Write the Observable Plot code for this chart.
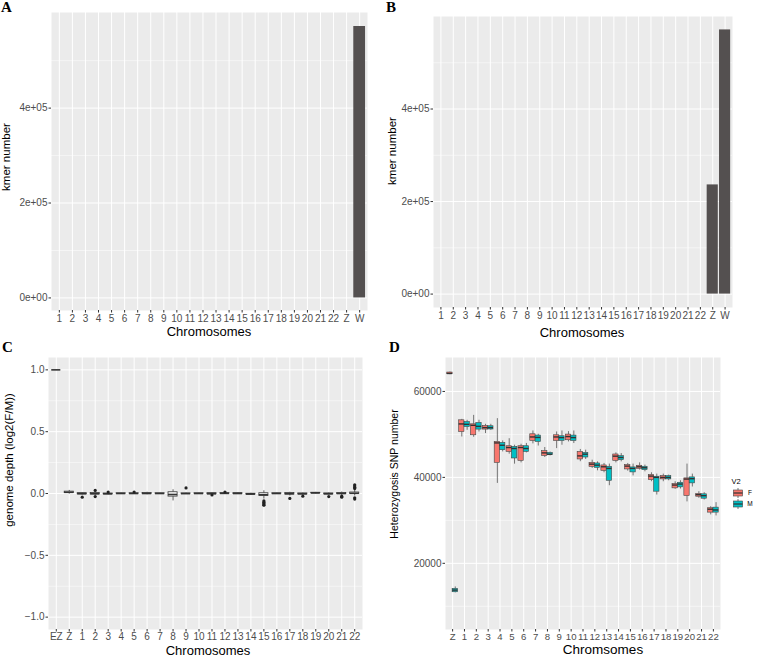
<!DOCTYPE html>
<html><head><meta charset="utf-8">
<script src="https://cdn.jsdelivr.net/npm/d3@7"></script>
<script src="https://cdn.jsdelivr.net/npm/@observablehq/plot@0.6"></script>
<style>
body{margin:0;background:#fff;}
#wrap{position:relative;width:760px;height:656px;overflow:hidden;font-family:"Liberation Sans",Arial,sans-serif;}
.t{position:absolute;white-space:nowrap;line-height:1;color:#000;}
.tag{position:absolute;font-family:"Liberation Serif","Times New Roman",serif;font-weight:bold;font-size:15px;line-height:1;}
</style></head><body><div id="wrap"></div>
<script>
// ---------- Panel A / B : kmer number per chromosome ----------
const chrAB = ["1","2","3","4","5","6","7","8","9","10","11","12","13","14","15","16","17","18","19","20","21","22","Z","W"];
const kmerA = [0,0,0,0,0,0,0,0,0,0,0,0,0,0,0,0,0,0,0,0,0,0,0,572000];
const kmerB = [0,0,0,0,0,0,0,0,0,0,0,0,0,0,0,0,0,0,0,0,0,0,236000,571000];
const kmerTicks = [0, 200000, 400000];
const kmerTickLabels = ["0e+00", "2e+05", "4e+05"];
const kmerMinor = [100000, 300000, 500000];

// ---------- Panel C : genome depth log2(F/M) ----------
const chrC = ["EZ","Z","1","2","3","4","5","6","7","8","9","10","11","12","13","14","15","16","17","18","19","20","21","22"];
const cLow  = [1, -0.005, -0.012, -0.015, -0.010, -0.004, -0.004, -0.010, -0.003, -0.060, -0.004, -0.004, -0.010, -0.003, -0.006, -0.012, -0.045, -0.004, -0.020, -0.012, -0.002, -0.012, -0.015, -0.020];
const cQ1   = [1,  0.003, -0.006, -0.007, -0.006, -0.002, -0.002, -0.004, -0.002, -0.025, -0.002, -0.002, -0.006, -0.001, -0.003, -0.008, -0.020, -0.002, -0.008, -0.007,  0.002, -0.006, -0.005, -0.004];
const cMed  = [1,  0.010, -0.002, -0.002, -0.003,  0.000,  0.000,  0.000,  0.000, -0.008, -0.001,  0.000, -0.002,  0.001,  0.000, -0.005, -0.010,  0.000, -0.002, -0.003,  0.004, -0.003,  0.000,  0.002];
const cQ3   = [1,  0.015,  0.003,  0.004,  0.000,  0.002,  0.002,  0.004,  0.002,  0.010,  0.001,  0.002,  0.003,  0.003,  0.003, -0.002,  0.002,  0.002,  0.004,  0.001,  0.006,  0.001,  0.004,  0.008];
const cHigh = [1,  0.025,  0.008,  0.012,  0.005,  0.004,  0.005,  0.010,  0.003,  0.030,  0.004,  0.004,  0.007,  0.006,  0.006,  0.002,  0.022,  0.004,  0.010,  0.005,  0.009,  0.005,  0.012,  0.025];
const cOutChr = ["1","2","2","3","5","9","11","12","15","15","15","15","15","17","18","20","21","21","22","22","22","22","22","22"];
const cOutVal = [-0.03, 0.025, -0.025, 0.012, 0.012, 0.045, -0.012, 0.012, -0.06, -0.07, -0.08, -0.09, -0.095, -0.04, -0.022, -0.025, -0.022, -0.03, 0.04, 0.05, 0.06, 0.07, -0.035, -0.045];
const cTicks = [-1, -0.5, 0, 0.5, 1];
const cTickLabels = ["\u22121.0", "\u22120.5", "0.0", "0.5", "1.0"];
const cMinor = [-0.75, -0.25, 0.25, 0.75];

// ---------- Panel D : heterozygosis SNP number ----------
const chrD = ["Z","1","2","3","4","5","6","7","8","9","10","11","12","13","14","15","16","17","18","19","20","21","22"];
const sexes = ["F", "M"];
const fLow  = [63900, 49400, 49340, 50200, 38600, 45400, 43380, 47800, 44630, 46700, 48250, 43650, 42080, 41070, 43380, 41460, 41690, 38990, 38990, 37220, 34300, 35130, 31270];
const fQ1   = [64000, 50570, 49800, 51120, 43380, 45930, 43850, 48480, 45000, 48480, 48640, 44170, 42450, 41530, 43850, 41850, 42000, 39380, 39530, 37450, 35670, 35500, 31800];
const fMed  = [64200, 52440, 52120, 51580, 48020, 46950, 46950, 49410, 45700, 49410, 49500, 45000, 43080, 42470, 44940, 42620, 42470, 40300, 40000, 38220, 39610, 35970, 32590];
const fQ3   = [64400, 53280, 52350, 51960, 48250, 47250, 47250, 50030, 46100, 49800, 49960, 45930, 43380, 42780, 45330, 42850, 42700, 40530, 40300, 38450, 39770, 36130, 32820];
const fHigh = [64500, 53500, 54430, 52350, 53670, 49000, 47710, 50800, 46950, 50570, 50650, 46500, 44000, 43240, 45700, 43240, 43380, 41070, 40760, 38990, 43090, 36670, 33190];
const mLow  = [13120, 50960, 50570, 50960, 45930, 43080, 45700, 47300, 45000, 47480, 47880, 44170, 41530, 38060, 43620, 40350, 41300, 35900, 39220, 37290, 37760, 34740, 31030];
const mQ1   = [13270, 51720, 51120, 51150, 46330, 44400, 45930, 48250, 45170, 48480, 48480, 44630, 42220, 39210, 44000, 41160, 41700, 36670, 39530, 37680, 38610, 35040, 31800];
const mMed  = [13770, 52350, 51880, 51580, 47480, 46720, 46720, 49300, 45400, 49260, 49260, 45400, 42850, 42080, 44630, 42080, 42240, 40000, 40000, 38450, 39690, 35740, 32420];
const mQ3   = [14050, 52880, 52650, 51900, 48020, 47100, 47250, 49730, 45700, 49570, 49730, 45700, 43240, 42470, 44940, 42320, 42470, 40150, 40300, 38750, 40000, 36060, 32960];
const mHigh = [14500, 53280, 53300, 52350, 48500, 47480, 47900, 50030, 45900, 50800, 50800, 46330, 43610, 43090, 45550, 43090, 42850, 40760, 40530, 39220, 40760, 36440, 34120];
const dTicks = [20000, 40000, 60000];
const dMinor = [10000, 30000, 50000];
const sexColors = ["#F8766D", "#00BFC4"];

// ---------- layout helpers ----------
const FONT = '"Liberation Sans", Arial, sans-serif';
const wrap = document.getElementById("wrap");

function addText(str, x, y, size, opts = {}) {
  const el = document.createElement("div");
  el.className = opts.tag ? "tag" : "t";
  el.textContent = str;
  el.style.left = x + "px";
  el.style.top = y + "px";
  el.style.fontSize = size + "px";
  if (opts.color) el.style.color = opts.color;
  if (!opts.tag) el.style.transform = "translate(-50%,-50%)" + (opts.rotate ? " rotate(-90deg)" : "");
  wrap.appendChild(el);
}

function panel({cats, yDomain, yMajor, yMinor, yFormat, margins, left, top, width, height, marks, color, xFont = 10, xPad = 1.5}) {
  const n = cats.length;
  const chart = Plot.plot({
    width, height, ...margins,
    style: {fontFamily: FONT, background: "transparent", color: "#333", overflow: "visible"},
    x: {type: "linear", domain: [-0.6, n - 0.4]},
    y: {domain: yDomain},
    color: color || undefined,
    marks: [
      Plot.frame({fill: "#EBEBEB", stroke: "none"}),
      Plot.ruleY(yMinor, {stroke: "#fff", strokeWidth: 0.5}),
      Plot.ruleY(yMajor, {stroke: "#fff", strokeWidth: 1}),
      Plot.ruleX(d3.range(n), {stroke: "#fff", strokeWidth: 1}),
      ...marks,
      Plot.axisX(d3.range(n), {tickFormat: i => cats[i], tickSize: 2.5, tickPadding: xPad, fontSize: xFont, fill: "#4D4D4D", stroke: "#333", label: null}),
      Plot.axisY(yMajor, {tickFormat: yFormat, tickSize: 2.5, tickPadding: 1.5, fontSize: 10, fill: "#4D4D4D", stroke: "#333", label: null})
    ]
  });
  chart.style.position = "absolute";
  chart.style.left = left + "px";
  chart.style.top = top + "px";
  wrap.appendChild(chart);
}

// ---------- Panel A ----------
const barsA = chrAB.map((c, i) => ({i, v: kmerA[i]})).filter(d => d.v > 0);
panel({
  cats: chrAB, yDomain: [-26500, 601500], yMajor: kmerTicks, yMinor: kmerMinor,
  yFormat: d => kmerTickLabels[kmerTicks.indexOf(d)],
  margins: {marginTop: 12, marginRight: 13, marginBottom: 30, marginLeft: 51},
  left: 0, top: 0, width: 380, height: 340,
  marks: [Plot.rectY(barsA, {x1: d => d.i - 0.45, x2: d => d.i + 0.45, y: "v", fill: "#545050"})]
});

// ---------- Panel B ----------
const barsB = chrAB.map((c, i) => ({i, v: kmerB[i]})).filter(d => d.v > 0);
panel({
  cats: chrAB, yDomain: [-29000, 600000], yMajor: kmerTicks, yMinor: kmerMinor,
  yFormat: d => kmerTickLabels[kmerTicks.indexOf(d)],
  margins: {marginTop: 16, marginRight: 28, marginBottom: 33, marginLeft: 53},
  left: 380, top: 0, width: 380, height: 340,
  marks: [Plot.rectY(barsB, {x1: d => d.i - 0.45, x2: d => d.i + 0.45, y: "v", fill: "#545050"})]
});

// ---------- Panel C ----------
const cRows = chrC.map((c, i) => ({i, lo: cLow[i], q1: cQ1[i], med: cMed[i], q3: cQ3[i], hi: cHigh[i]}));
const cOut = cOutChr.map((c, k) => ({i: chrC.indexOf(c), v: cOutVal[k]}));
const cw = 0.35;
panel({
  cats: chrC, yDomain: [-1.1, 1.1], yMajor: cTicks, yMinor: cMinor,
  yFormat: d => cTickLabels[cTicks.indexOf(d)], xPad: 1,
  margins: {marginTop: 17, marginRight: 18, marginBottom: 27, marginLeft: 48},
  left: 0, top: 340, width: 380, height: 316,
  marks: [
    Plot.ruleX(cRows, {x: "i", y1: "lo", y2: "q1", stroke: "#333", strokeWidth: 0.8}),
    Plot.ruleX(cRows, {x: "i", y1: "q3", y2: "hi", stroke: "#333", strokeWidth: 0.8}),
    Plot.rect(cRows, {x1: d => d.i - cw, x2: d => d.i + cw, y1: "q1", y2: "q3", fill: "#fff", stroke: "#333", strokeWidth: 0.8}),
    Plot.ruleY(cRows, {y: "med", x1: d => d.i - cw, x2: d => d.i + cw, stroke: "#333", strokeWidth: 1.6}),
    Plot.dot(cOut, {x: "i", y: "v", r: 1.6, fill: "#222", stroke: "none"})
  ]
});

// ---------- Panel D ----------
const dRows = chrD.flatMap((c, i) => [
  {i, sex: "F", x1: i - 0.45, x2: i, lo: fLow[i], q1: fQ1[i], med: fMed[i], q3: fQ3[i], hi: fHigh[i]},
  {i, sex: "M", x1: i, x2: i + 0.45, lo: mLow[i], q1: mQ1[i], med: mMed[i], q3: mQ3[i], hi: mHigh[i]}
]);
const mid = d => (d.x1 + d.x2) / 2;
panel({
  cats: chrD, yDomain: [4600, 67900], yMajor: dTicks, yMinor: dMinor,
  yFormat: d => String(d), xFont: 9.6, xPad: 1,
  margins: {marginTop: 17, marginRight: 40, marginBottom: 27, marginLeft: 65},
  left: 380, top: 340, width: 380, height: 316,
  color: {domain: sexes, range: sexColors},
  marks: [
    Plot.ruleX(dRows, {x: mid, y1: "lo", y2: "q1", stroke: "#555", strokeWidth: 0.8}),
    Plot.ruleX(dRows, {x: mid, y1: "q3", y2: "hi", stroke: "#555", strokeWidth: 0.8}),
    Plot.rect(dRows, {x1: "x1", x2: "x2", y1: "q1", y2: "q3", fill: "sex", stroke: "#444", strokeWidth: 0.6}),
    Plot.ruleY(dRows, {y: "med", x1: "x1", x2: "x2", stroke: "#333", strokeWidth: 1.4})
  ]
});

// ---------- legend for D ----------
addText("V2", 736, 482, 7.5);
sexes.forEach((s, k) => {
  const svg = d3.create("svg").attr("width", 12).attr("height", 10)
    .style("position", "absolute").style("left", "732px").style("top", (488 + k * 11) + "px");
  svg.append("line").attr("x1", 6).attr("x2", 6).attr("y1", 0).attr("y2", 10).attr("stroke", "#555").attr("stroke-width", 0.8);
  svg.append("rect").attr("x", 1.5).attr("y", 2).attr("width", 9).attr("height", 6).attr("fill", sexColors[k]).attr("stroke", "#444").attr("stroke-width", 0.6);
  svg.append("line").attr("x1", 1.5).attr("x2", 10.5).attr("y1", 5).attr("y2", 5).attr("stroke", "#333").attr("stroke-width", 1.2);
  wrap.appendChild(svg.node());
  addText(s, 750, 493 + k * 11, 6.5);
});

// ---------- axis titles ----------
addText("Chromosomes", 209, 331, 13);
addText("kmer number", 7, 157, 11.5, {rotate: true});
addText("Chromosomes", 582, 332, 13);
addText("kmer number", 393, 151, 11.5, {rotate: true});
addText("Chromosomes", 208, 649.5, 13);
addText("genome depth (log2(F/M))", 10, 460, 11.5, {rotate: true});
addText("Chromsomes", 603, 649.5, 13.5);
addText("Heterozygosis SNP number", 394, 474, 10.5, {rotate: true});

// ---------- panel tags ----------
addText("A", 1, 0, 15, {tag: true});
addText("B", 386, 0, 15, {tag: true});
addText("C", 2, 340, 15, {tag: true});
addText("D", 389, 340, 15, {tag: true});
</script></body></html>
